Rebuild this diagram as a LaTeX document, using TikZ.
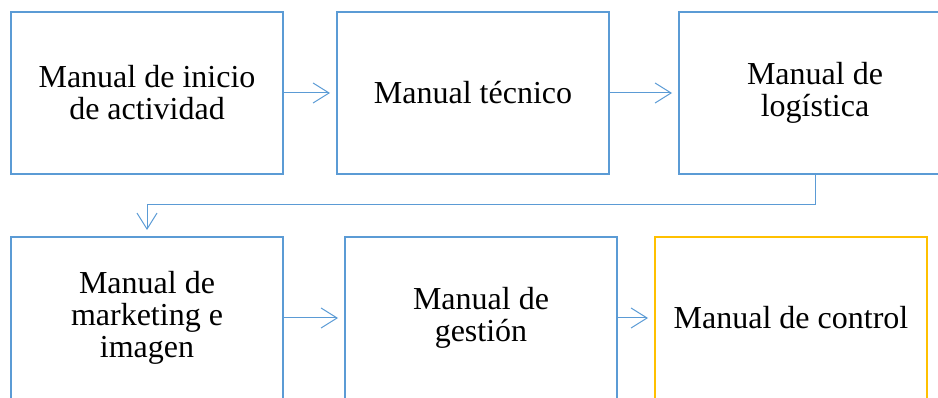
\documentclass[tikz,border=0pt]{standalone}
\usepackage{fontspec}
\setmainfont{Liberation Serif}
\usetikzlibrary{arrows.meta,positioning}
\definecolor{boxblue}{HTML}{5B9BD5}
\definecolor{boxgold}{HTML}{FFC000}

\begin{document}
\begin{tikzpicture}[x=1pt,y=1pt,
    manual/.style={draw=boxblue,line width=2.6pt,outer sep=0pt,inner sep=0pt,
      minimum width=272pt,minimum height=162pt,align=center,
      font=\fontsize{32}{32}\selectfont},
    link/.style={draw=boxblue,line width=1pt,shorten >=7pt,
      -{Straight Barb[length=16pt,width=20pt]}}]
   \useasboundingbox (0,0) rectangle (938,-398);
   % first row
   \node[manual] (inicio)    at (147,-93)           {Manual de inicio\\de actividad};
   \node[manual] (tecnico)   [right=54pt of inicio]  {Manual técnico};
   \node[manual] (logistica) [right=70pt of tecnico] {Manual de\\logística};
   % second row
   \node[manual] (marketing) at (147,-318)             {Manual de\\marketing e\\imagen};
   \node[manual] (gestion)   [right=62pt of marketing] {Manual de\\gestión};
   \node[manual,draw=boxgold] (control) [right=38pt of gestion] {Manual de control};
    \path[link]
    (inicio) edge[link] (tecnico)
    (tecnico) edge[link] (logistica)
    (marketing) edge[link] (gestion)
    (gestion) edge[link] (control);
    \draw[link] (logistica.south) -- ++(0,-31) -| (marketing.north);
\end{tikzpicture}
\end{document}
